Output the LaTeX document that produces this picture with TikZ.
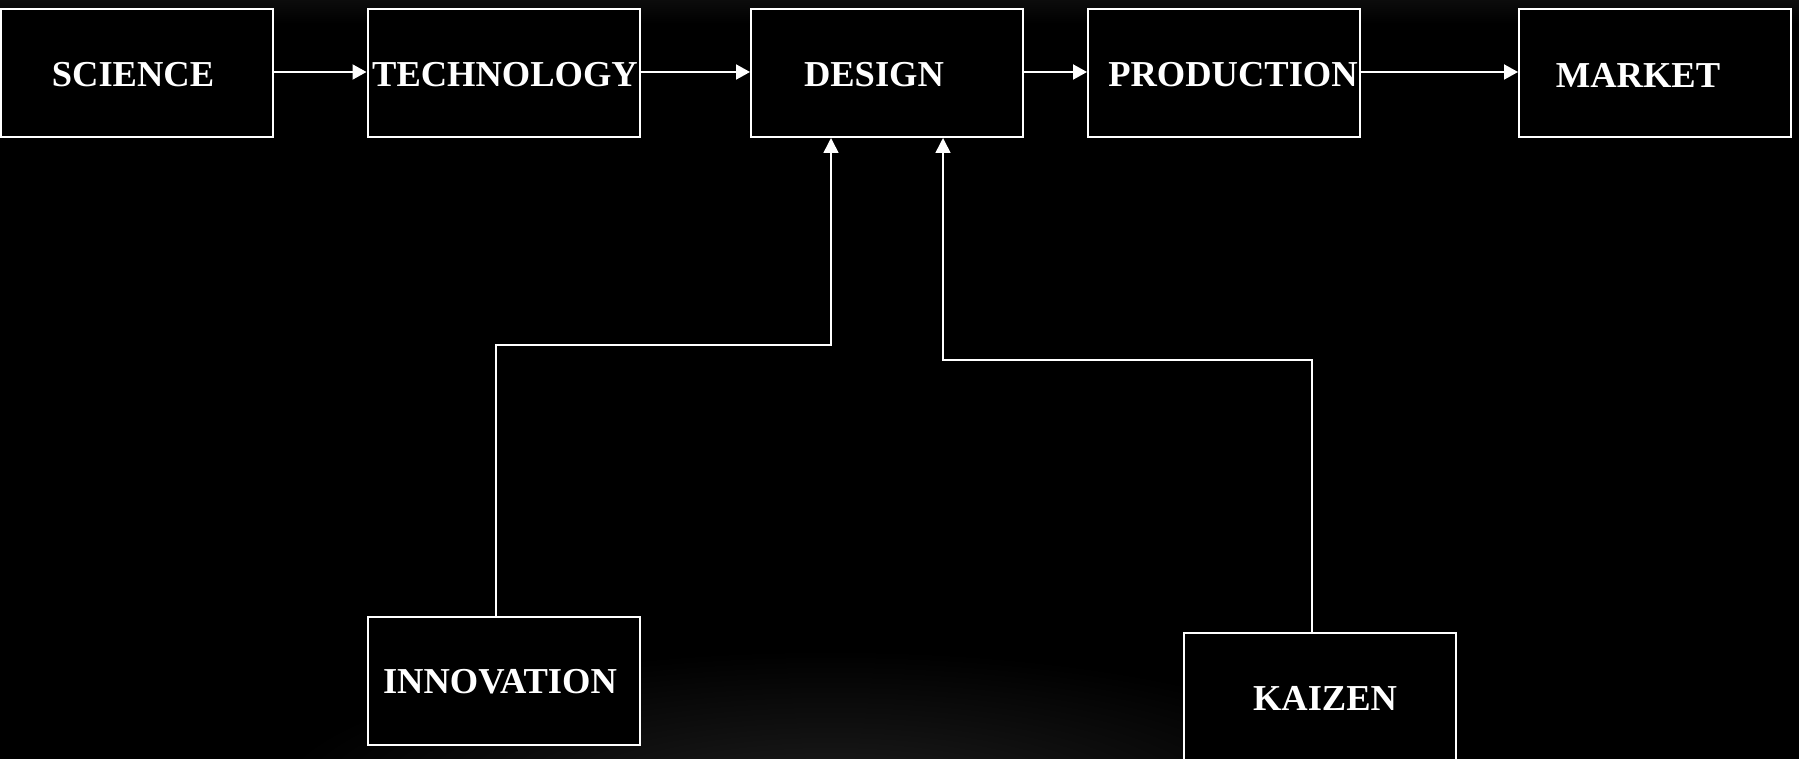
\documentclass[tikz,border=0pt]{standalone}
\usepackage{fontspec}
\setmainfont{Liberation Serif}
\usetikzlibrary{arrows.meta}
\definecolor{bgtop}{HTML}{0C0C0C}
\definecolor{glow}{HTML}{1E1E1E}
\begin{document}
\begin{tikzpicture}[x=1pt,y=-1pt,
  box/.style={draw=white,line width=2pt,fill=black,minimum width=272pt,minimum height=128pt,inner sep=0pt},
  lbl/.style={text=white,font=\fontsize{36.5}{40}\selectfont\bfseries,inner sep=0pt},
  flow/.style={draw=white,line width=2pt,-{Triangle[length=14pt,width=15pt]}},
  feed/.style={draw=white,line width=1.5pt,-{Triangle[length=15pt,width=15pt]}}]
% background
\useasboundingbox (0,0) rectangle (1799,759);
\fill[black] (0,0) rectangle (1799,759);
\shade[top color=bgtop,bottom color=black] (0,0) rectangle (1799,24);
\begin{scope}
\clip (0,0) rectangle (1799,759);
\shade[inner color=glow,outer color=black] (830,800) ellipse [x radius=560pt,y radius=150pt];
\end{scope}
% boxes along the main chain
\node[box] (science) at (137,73) {};
\node[box] (technology) at (503.5,73) {};
\node[box] (design) at (887,73) {};
\node[box] (production) at (1224,73) {};
\node[box] (market) at (1655,73) {};
% boxes feeding into design
\node[box] (innovation) at (504,681) {};
\node[box] (kaizen) at (1320,697) {};
% labels
\node[lbl] (science-l) at (133,75) {SCIENCE};
\node[lbl] (technology-l) at (505,75) {TECHNOLOGY};
\node[lbl] (design-l) at (874,75) {DESIGN};
\node[lbl] (production-l) at (1233,75) {PRODUCTION};
\node[lbl] (market-l) at (1638,75) {MARKET};
\node[lbl] (innovation-l) at (500,682) {INNOVATION};
\node[lbl] (kaizen-l) at (1325,698) {KAIZEN};
% main chain arrows
\coordinate (row) at (0,72);
\draw[flow] (science.east |- row) -- (technology.west |- row);
\draw[flow] (technology.east |- row) -- (design.west |- row);
\draw[flow] (design.east |- row) -- (production.west |- row);
\draw[flow] (production.east |- row) -- (market.west |- row);
% feedback paths into design
\coordinate (i1) at (496,345);
\coordinate (i2) at (831,345);
\coordinate (k1) at (1312,360);
\coordinate (k2) at (943,360);
\draw[feed] (innovation.north -| i1) -- (i1) -- (i2) -- (design.south -| i2);
\draw[feed] (kaizen.north -| k1) -- (k1) -- (k2) -- (design.south -| k2);
\end{tikzpicture}
\end{document}
